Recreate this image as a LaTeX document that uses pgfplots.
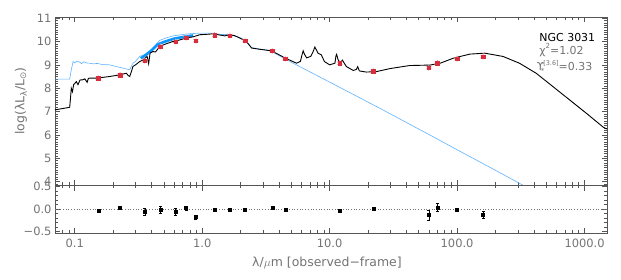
\documentclass[border=0pt]{standalone}
\usepackage{fontspec}
\setmainfont{DejaVu Sans}
\usepackage{pgfplots}
\pgfplotsset{compat=1.18}
\definecolor{axgray}{RGB}{85,85,85}
\definecolor{lblgray}{RGB}{115,115,115}
\definecolor{sedblue}{RGB}{95,178,255}
\definecolor{bandblue}{RGB}{10,150,255}
\definecolor{ptred}{RGB}{215,45,60}
\begin{document}
\begin{tikzpicture}[x=1bp,y=1bp]
\path[use as bounding box] (0,0) rectangle (621,279);
% ---------------- top panel ----------------
\begin{axis}[
  scale only axis, width=552bp, xmode=log, xmin=0.07, xmax=1500,
  xtick={0.1,1,10,100,1000},
  extra x ticks={0.07,0.08,0.09,0.2,0.3,0.4,0.5,0.6,0.7,0.8,0.9,2,3,4,5,6,7,8,9,20,30,40,50,60,70,80,90,200,300,400,500,600,700,800,900},
  extra x tick labels={},
  extra y ticks={3.9,4.1,4.2,4.3,4.4,4.5,4.6,4.7,4.8,4.9,5.1,5.2,5.3,5.4,5.5,5.6,5.7,5.8,5.9,6.1,6.2,6.3,6.4,6.5,6.6,6.7,6.8,6.9,7.1,7.2,7.3,7.4,7.5,7.6,7.7,7.8,7.9,8.1,8.2,8.3,8.4,8.5,8.6,8.7,8.8,8.9,9.1,9.2,9.3,9.4,9.5,9.6,9.7,9.8,9.9,10.1,10.2,10.3,10.4,10.5,10.6,10.7,10.8,10.9},
  extra y tick labels={},
  extra x tick style={major tick length=3bp},
  extra y tick style={major tick length=3bp},
  tick align=inside, xtick pos=both, ytick pos=both,
  major tick length=5.5bp,
  axis line style={axgray, line width=0.55pt},
  every tick/.style={axgray, line width=0.55pt},
  tick label style={lblgray, font=\fontsize{11.5}{12}\selectfont},
  at={(55bp,94bp)}, anchor=south west, height=168bp,
  ymin=3.85, ymax=11.05,
  xticklabels={},
  ytick={4,5,6,7,8,9,10,11}, yticklabels={4,5,6,7,8,9,10,11},
]
% unattenuated stellar spectrum (blue)
\addplot[sedblue, line width=0.6pt] coordinates {
(0.07,8.39) (0.0912,8.39) (0.094,8.79) (0.097,9.14) (0.100,9.08) (0.104,9.16) (0.109,9.12)
(0.113,9.05) (0.118,9.13) (0.124,9.08) (0.131,9.07) (0.140,9.04) (0.150,9.06) (0.165,9.01)
(0.188,9.00) (0.21,8.93) (0.239,8.86) (0.255,8.82) (0.27,8.79) (0.286,9.07) (0.30,9.15)
(0.323,9.36) (0.36,9.45) (0.387,9.57) (0.43,9.85) (0.465,10.05) (0.52,10.15) (0.589,10.24)
(0.75,10.32) (0.956,10.36) (1.22,10.36) (1.4,10.30) (1.64,10.30) (1.97,10.17) (2.16,10.06)
(2.44,9.74) (2.8,9.68) (3.38,9.62) (4.4,9.27) (10,8.26) (24.7,7.14) (60.8,6.00) (100,5.36)
(200,4.48) (309,3.92) (400,3.60)
};
\addplot[bandblue, line width=2.6pt] coordinates {
(0.33,9.28) (0.36,9.42) (0.40,9.62) (0.45,9.88) (0.50,9.98) (0.60,10.12) (0.75,10.22) (0.85,10.26)
};
% total model (black)
\addplot[black, line width=0.9pt] coordinates {
(0.07,7.07) (0.0913,7.18) (0.094,8.00) (0.096,7.85) (0.098,8.15) (0.103,8.28) (0.106,8.15)
(0.110,8.35) (0.116,8.36) (0.120,8.40) (0.125,8.25) (0.128,8.42) (0.131,8.43) (0.148,8.43)
(0.170,8.47) (0.188,8.50) (0.225,8.57) (0.254,8.64) (0.262,8.55) (0.270,8.50) (0.280,8.75)
(0.286,8.93) (0.300,9.00) (0.323,9.14) (0.340,9.20) (0.370,9.36) (0.380,9.05) (0.390,9.50)
(0.410,9.57) (0.430,9.55) (0.465,9.79) (0.520,9.90) (0.589,10.00) (0.650,10.05) (0.750,10.15)
(0.850,10.20) (0.956,10.29) (1.10,10.31) (1.22,10.33) (1.40,10.27) (1.50,10.24) (1.64,10.29)
(1.80,10.25) (1.97,10.15) (2.16,10.04) (2.30,9.90) (2.44,9.72) (2.80,9.67) (3.38,9.61)
(3.59,9.57) (4.48,9.29) (5.5,9.07) (5.9,9.15) (6.05,9.40) (6.2,9.60) (6.35,9.45) (6.6,9.30)
(7.1,9.36) (7.4,9.55) (7.65,9.76) (7.9,9.62) (8.1,9.50) (8.6,9.43) (9.1,9.14) (10,9.00)
(11.0,9.07) (11.2,9.38) (11.35,9.45) (11.6,9.25) (12.0,9.07) (12.6,9.20) (13.5,8.93)
(15.3,8.76) (16.2,8.80) (16.6,8.92) (17.1,8.74) (19.4,8.69) (23.3,8.71) (29.8,8.84)
(42.4,8.97) (61.3,8.99) (73.7,9.07) (94,9.29) (126,9.46) (165,9.50) (229,9.36) (308,9.07)
(417,8.64) (564,8.07) (762,7.50) (1030,6.93) (1400,6.33) (1500,6.25)
};
% observed photometry (red)
\addplot[only marks, mark=asterisk, mark size=3pt, ptred!45, line width=0.8pt] coordinates {
(0.153,8.43) (0.227,8.56) (0.355,9.18) (0.469,9.79) (0.617,10.00) (0.748,10.17) (0.893,10.04)
(1.25,10.27) (1.65,10.26) (2.17,10.04) (3.55,9.60) (4.49,9.27) (12,9.07) (22,8.73)
(60,8.88) (70,9.07) (100,9.27) (160,9.36)
};
\addplot[only marks, mark=square*, mark size=1.7pt, ptred] coordinates {
(0.153,8.43) (0.227,8.56) (0.355,9.18) (0.469,9.79) (0.617,10.00) (0.748,10.17) (0.893,10.04)
(1.25,10.27) (1.65,10.26) (2.17,10.04) (3.55,9.60) (4.49,9.27) (12,9.07) (22,8.73)
(60,8.88) (70,9.07) (100,9.27) (160,9.36)
};
\node[anchor=west, text=black, font=\fontsize{11}{12}\selectfont, inner sep=0pt] at (rel axis cs:0.877,0.877) {NGC\,\,3031};
\node[anchor=west, text=lblgray, font=\fontsize{11}{12}\selectfont, inner sep=0pt] at (rel axis cs:0.877,0.804) {χ\raisebox{0.9ex}{\fontsize{7}{7}\selectfont 2}=1.02};
\node[anchor=west, text=lblgray, font=\fontsize{11}{12}\selectfont, inner sep=0pt] at (rel axis cs:0.872,0.70) {ϒ\hspace{-0.3em}\raisebox{-0.5ex}{\fontsize{7}{7}\selectfont *}\hspace{-0.1em}\raisebox{0.8ex}{\fontsize{6.5}{7}\selectfont[3.6]}=0.33};
\end{axis}
% ---------------- residual panel ----------------
\begin{axis}[
  scale only axis, width=552bp, xmode=log, xmin=0.07, xmax=1500,
  xtick={0.1,1,10,100,1000},
  extra x ticks={0.07,0.08,0.09,0.2,0.3,0.4,0.5,0.6,0.7,0.8,0.9,2,3,4,5,6,7,8,9,20,30,40,50,60,70,80,90,200,300,400,500,600,700,800,900},
  extra x tick labels={},
  extra y ticks={-0.4,-0.3,-0.2,-0.1,0.1,0.2,0.3,0.4},
  extra y tick labels={},
  extra x tick style={major tick length=3bp},
  extra y tick style={major tick length=3bp},
  tick align=inside, xtick pos=both, ytick pos=both,
  major tick length=5.5bp,
  axis line style={axgray, line width=0.55pt},
  every tick/.style={axgray, line width=0.55pt},
  tick label style={lblgray, font=\fontsize{11.5}{12}\selectfont},
  at={(55bp,46bp)}, anchor=south west, height=48bp,
  ymin=-0.535, ymax=0.535,
  xticklabels={0.1,1.0,10.0,100.0,1000.0},
  xticklabel style={yshift=-2bp},
  ytick={-0.5,0,0.5}, yticklabels={−0.5,0.0,0.5},
]
\addplot[lblgray, dotted, line width=0.7pt] coordinates {(0.07,0) (1500,0)};
\addplot[only marks, mark=square*, mark size=1.5pt, black,
  error bars/.cd, y dir=both, y explicit, error bar style={line width=0.5pt}]
coordinates {
(0.153,-0.04) +- (0,0.04)
(0.227,0.03) +- (0,0.03)
(0.355,-0.06) +- (0,0.08)
(0.469,-0.02) +- (0,0.08)
(0.617,-0.06) +- (0,0.08)
(0.748,0.02) +- (0,0.05)
(0.893,-0.18) +- (0,0.05)
(1.25,-0.01) +- (0,0.03)
(1.65,-0.01) +- (0,0.03)
(2.17,-0.02) +- (0,0.03)
(3.55,0.03) +- (0,0.03)
(4.49,-0.02) +- (0,0.03)
(12,-0.04) +- (0,0.03)
(22,0.01) +- (0,0.03)
(60,-0.13) +- (0,0.11)
(70,0.04) +- (0,0.09)
(100,-0.01) +- (0,0.03)
(160,-0.13) +- (0,0.08)
};
\end{axis}
% axis titles
\node[rotate=90, text=lblgray, font=\fontsize{12.5}{13}\selectfont] at (21,178) {log(λL\textsubscript{λ}/L\textsubscript{⊙})};
\node[text=lblgray, font=\fontsize{12.5}{13}\selectfont] at (327,16) {λ/$\mu$m [observed−frame]};
\end{tikzpicture}
\end{document}
